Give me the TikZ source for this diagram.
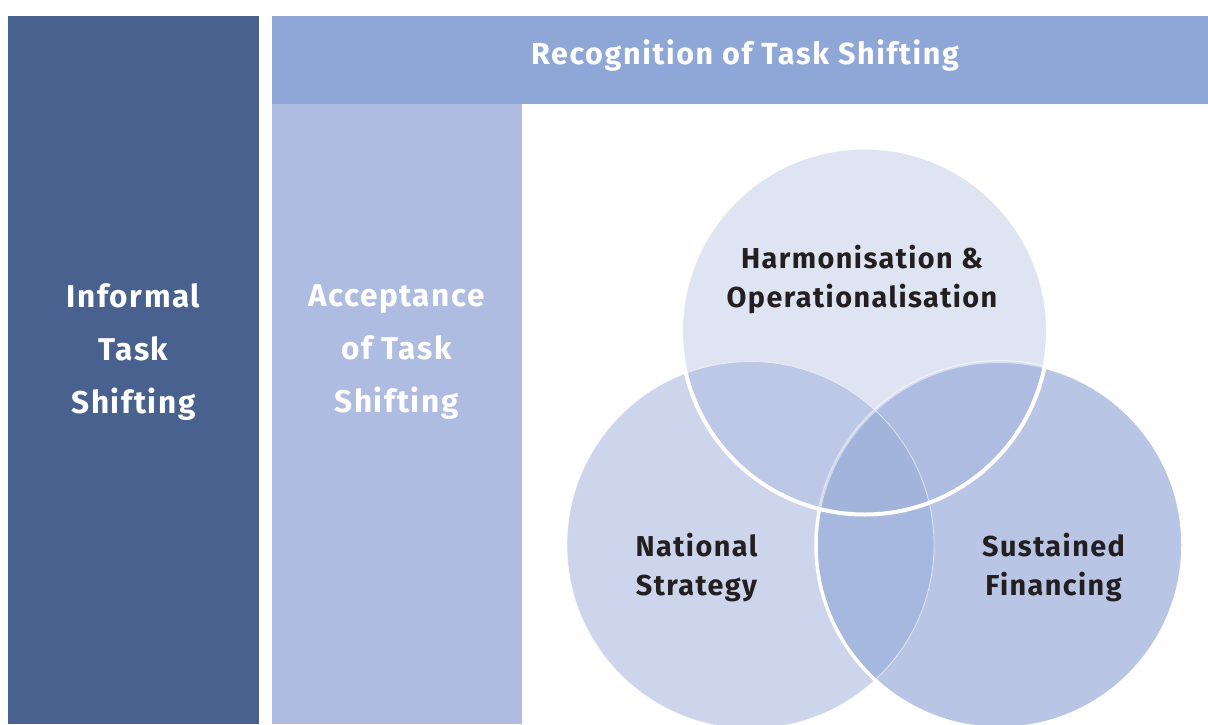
\documentclass[tikz,border=0pt]{standalone}
\usepackage{fontspec}
\setmainfont{Fira Sans}
\definecolor{cDark}{HTML}{48618F}
\definecolor{cBar}{HTML}{8EA7D6}
\definecolor{cCol}{HTML}{ADBCE0}
\definecolor{cT}{HTML}{DFE4F3}
\definecolor{cL}{HTML}{CDD5EC}
\definecolor{cR}{HTML}{B8C5E4}
\definecolor{cTL}{HTML}{BCC8E5}
\definecolor{cTR}{HTML}{ADBCE0}
\definecolor{cLR}{HTML}{A7B8DF}
\definecolor{cTLR}{HTML}{A2B4DA}
\definecolor{cText}{HTML}{231F20}
\begin{document}
\begin{tikzpicture}[x=1pt,y=-1pt,
  coltext/.style={text=white, font=\bfseries\fontsize{31.5}{53}\selectfont\addfontfeature{LetterSpace=5}, align=center, inner sep=0pt},
  bartext/.style={text=white, font=\bfseries\fontsize{30.5}{36}\selectfont\addfontfeature{LetterSpace=5.4}, inner sep=0pt},
  circtext/.style={text=cText, font=\bfseries\fontsize{28.8}{39}\selectfont\addfontfeature{LetterSpace=5}, align=center, inner sep=0pt}]
\useasboundingbox (0,0) rectangle (1208,724);
\fill[white] (0,0) rectangle (1208,724);
% columns and bar
\fill[cDark] (8,16) rectangle (259,724);
\fill[cCol] (272,104) rectangle (522,724);
\fill[cBar] (272,16) rectangle (1208,104);
% circles
\def\rr{183.5}
\coordinate (T) at (864.5,331);
\coordinate (L) at (750.5,545);
\coordinate (R) at (999.5,545);
\fill[cT] (T) circle (\rr);
\fill[cL] (L) circle (\rr);
\fill[cR] (R) circle (\rr);
\begin{scope}
  \clip (L) circle (\rr);
  \fill[cLR] (R) circle (\rr);
\end{scope}
\begin{scope}
  \clip (T) circle (\rr);
  \fill[cTL] (L) circle (\rr);
  \fill[cTR] (R) circle (\rr);
  \clip (L) circle (\rr);
  \fill[cTLR] (R) circle (\rr);
\end{scope}
% borders
\draw[white, line width=0.8, opacity=0.6] (L) circle (\rr);
\begin{scope}[even odd rule]
  \clip (-10,-10) rectangle (1220,740) (T) circle (\rr);
  \draw[white, line width=3.5] (R) circle (\rr);
\end{scope}
\begin{scope}
  \clip (T) circle (\rr);
  \draw[white, line width=3, opacity=0.5] (R) circle (\rr);
\end{scope}
\draw[white, line width=4] (T) circle (\rr);
% texts
\node[bartext] (title) at (745,56) {Recognition of Task Shifting};
\node[coltext] (informal) at (133.5,352.5) {Informal\\Task\\Shifting};
\node[coltext] (accept) at (396.5,352.5) {Acceptance\\of Task\\Shifting};
\node[circtext] (harm) at (862,280) {Harmonisation \&\\Operationalisation};
\node[circtext] (nat) at (696.5,567.5) {National\\Strategy};
\node[circtext] (fin) at (1053.5,567.5) {Sustained\\Financing};
\end{tikzpicture}
\end{document}
